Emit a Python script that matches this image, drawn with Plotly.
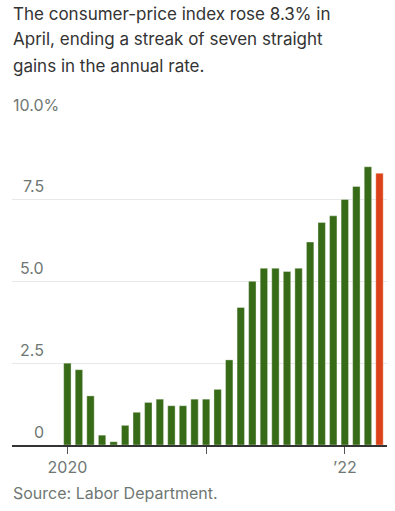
import plotly.graph_objects as go

months = ["2020-01","2020-02","2020-03","2020-04","2020-05","2020-06","2020-07","2020-08",
          "2020-09","2020-10","2020-11","2020-12","2021-01","2021-02","2021-03","2021-04",
          "2021-05","2021-06","2021-07","2021-08","2021-09","2021-10","2021-11","2021-12",
          "2022-01","2022-02","2022-03","2022-04"]
cpi_yoy = [2.5, 2.3, 1.5, 0.3, 0.1, 0.6, 1.0, 1.3, 1.4, 1.2, 1.2, 1.4,
           1.4, 1.7, 2.6, 4.2, 5.0, 5.4, 5.4, 5.3, 5.4, 6.2, 6.8, 7.0,
           7.5, 7.9, 8.5, 8.3]
y_ticks = [0, 2.5, 5.0, 7.5, 10.0]
y_tick_labels = ["0", "2.5", "5.0", "7.5", "10.0%"]
x_tick_months = ["2020-01", "2021-01", "2022-01"]
x_tick_labels = ["2020", "", "\u201922"]
title_lines = ["The consumer-price index rose 8.3% in",
               "April, ending a streak of seven straight",
               "gains in the annual rate."]
source = "Source: Labor Department."

GREEN = "#386b18"
RED = "#dc4219"
TEXT = "#6f7773"
FONT = "Inter"

x_idx = list(range(len(months)))
colors = [GREEN] * (len(months) - 1) + [RED]

fig = go.Figure(go.Bar(
    x=x_idx, y=cpi_yoy, width=0.64,
    marker=dict(color=colors, line=dict(color="rgba(255,255,255,0.35)", width=1)),
    hoverinfo="skip",
))

W, H = 395, 511
L, R, T, B = 12, 8, 117, 66
plot_w = W - L - R
plot_h = H - T - B


def px_to_paper_y(py):
    return (H - B - py) / plot_h


def px_to_paper_x(px):
    return (px - L) / plot_w


annotations = []
for i, line in enumerate(title_lines):
    annotations.append(dict(
        text=line, xref="paper", yref="paper", x=px_to_paper_x(11), xanchor="left",
        y=px_to_paper_y(1.5 + 26 * i), yanchor="top", showarrow=False,
        font=dict(family=FONT, size=17, color="#333333"), align="left"))

annotations.append(dict(
    text=source, xref="paper", yref="paper", x=px_to_paper_x(11), xanchor="left",
    y=px_to_paper_y(481), yanchor="top", showarrow=False,
    font=dict(family=FONT, size=16, color=TEXT)))

for v, lab in zip(y_ticks, y_tick_labels):
    if lab.endswith("%"):
        ann = dict(x=px_to_paper_x(11), xanchor="left")
    else:
        ann = dict(x=px_to_paper_x(46), xanchor="right")
    ann.update(text=lab, xref="paper", yref="y", y=v, yanchor="bottom", yshift=1,
               showarrow=False, font=dict(family=FONT, size=16, color=TEXT))
    annotations.append(ann)

fig.update_layout(
    width=W, height=H, margin=dict(l=L, r=R, t=T, b=B, autoexpand=False),
    paper_bgcolor="white", plot_bgcolor="white",
    showlegend=False,
    font=dict(family=FONT, size=16, color=TEXT),
    annotations=annotations,
    xaxis=dict(
        range=[-4.79, 27.65], tickmode="array",
        tickvals=[months.index(m) for m in x_tick_months], ticktext=x_tick_labels,
        ticks="outside", ticklen=7, tickcolor="#555555", tickwidth=1,
        showline=True, linecolor="#333333", linewidth=1.5,
        showgrid=False, zeroline=False, fixedrange=True, automargin=False,
        tickfont=dict(family=FONT, size=16, color=TEXT),
    ),
    yaxis=dict(
        range=[0, 10.02], tickmode="array", tickvals=y_ticks,
        showticklabels=False, showgrid=True, gridcolor="#e8e8e8", gridwidth=1,
        zeroline=False, showline=False, fixedrange=True, automargin=False,
    ),
)

fig.write_html("out.html", config={"displayModeBar": False},
               post_script="document.body.style.margin='0';")
